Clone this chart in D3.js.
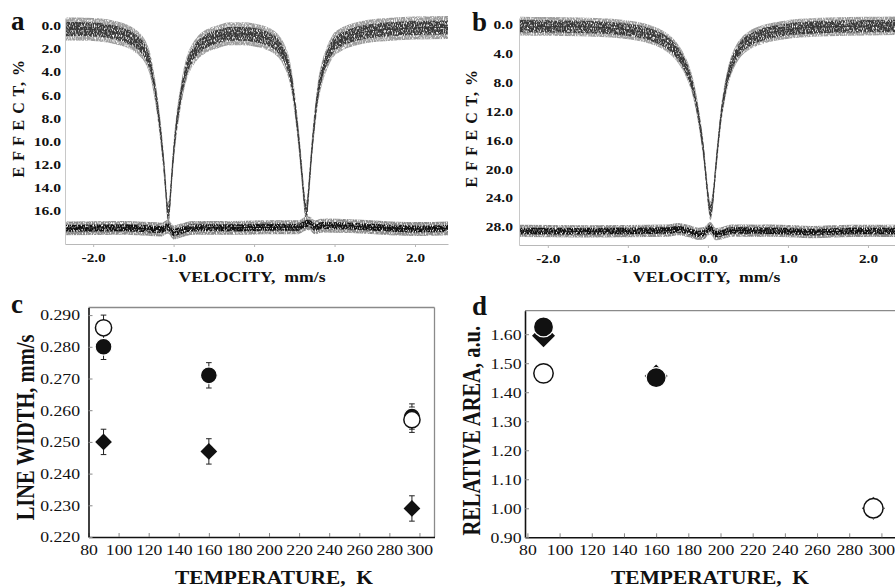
<!DOCTYPE html>
<html>
<head>
<meta charset="utf-8">
<script src="https://cdn.jsdelivr.net/npm/d3@7"></script>
<style>
  body { margin: 0; background: #fff; }
  svg { display: block; }
  text { font-family: "Liberation Serif", "Times New Roman", serif; fill: #111; }
</style>
</head>
<body>
<svg id="fig" width="895" height="588"></svg>
<script>
// ---- spectrum a: [velocity mm/s, effect %]
var spectrumA = [
  [-2.35,0.28],[-2.1,0.3],[-1.9,0.38],[-1.75,0.55],[-1.6,0.85],[-1.5,1.2],[-1.42,1.65],
  [-1.35,2.3],[-1.29,3.4],[-1.24,5.2],[-1.19,7.6],[-1.15,10.0],[-1.12,12.2],[-1.095,14.4],
  [-1.075,16.1],[-1.06,16.2],[-1.045,15.2],[-1.025,13.2],[-1.0,11.0],[-0.97,8.9],[-0.93,6.9],
  [-0.88,4.9],[-0.83,3.5],[-0.77,2.6],[-0.7,1.9],[-0.6,1.35],[-0.45,0.95],[-0.3,0.7],
  [-0.15,0.7],[0.0,0.8],[0.12,1.0],[0.22,1.3],[0.3,1.75],[0.37,2.5],[0.43,3.6],[0.48,5.4],
  [0.52,7.6],[0.56,10.2],[0.59,12.5],[0.62,14.8],[0.64,16.0],[0.655,16.1],[0.67,15.0],
  [0.695,12.8],[0.72,10.6],[0.75,8.4],[0.79,6.0],[0.84,4.2],[0.9,2.9],[0.98,1.75],
  [1.08,1.2],[1.2,0.85],[1.4,0.5],[1.7,0.3],[2.0,0.2],[2.41,0.15]
];
var residualA = [
  [-2.35,17.55],[-1.6,17.5],[-1.3,17.6],[-1.15,17.65],[-1.07,17.4],[-1.0,17.9],[-0.92,17.75],
  [-0.75,17.5],[-0.3,17.5],[0.3,17.45],[0.55,17.45],[0.62,17.2],[0.68,17.1],[0.76,17.45],
  [0.85,17.3],[1.2,17.35],[1.6,17.5],[2.0,17.6],[2.41,17.55]
];

// ---- spectrum b
var spectrumB = [
  [-2.36,0.15],[-2.0,0.2],[-1.6,0.25],[-1.2,0.45],[-0.95,0.75],[-0.8,1.05],[-0.65,1.6],
  [-0.53,2.3],[-0.44,3.1],[-0.36,4.2],[-0.3,5.3],[-0.24,6.8],[-0.18,9.0],[-0.13,11.8],
  [-0.09,14.6],[-0.05,18.0],[-0.02,21.5],[0.005,24.2],[0.03,25.8],[0.05,25.2],[0.075,22.8],
  [0.1,19.6],[0.13,16.2],[0.16,13.0],[0.2,10.0],[0.25,7.2],[0.31,5.1],[0.38,3.6],[0.47,2.5],
  [0.58,1.75],[0.72,1.2],[0.9,0.8],[1.15,0.45],[1.5,0.25],[2.0,0.15],[2.4,0.1]
];
var residualB = [
  [-2.36,28.6],[-1.5,28.65],[-0.5,28.55],[-0.38,28.35],[-0.25,28.6],[-0.12,29.0],[-0.05,28.9],
  [0.03,28.2],[0.1,29.05],[0.18,28.9],[0.3,28.55],[0.9,28.6],[1.3,28.75],[1.8,28.6],[2.4,28.6]
];

var velTicks = [-2, -1, 0, 1, 2];
var effTicksA = [0, 2, 4, 6, 8, 10, 12, 14, 16];
var effTicksB = [0, 4, 8, 12, 16, 20, 24, 28];

// ---- panels c and d (temperature K)
var temps = [90, 160, 295];
var widthFilled  = [0.280, 0.271, 0.258];
var widthOpen    = [0.286, null, 0.257];
var widthDiamond = [0.250, 0.247, 0.229];
var widthErr = 0.004;
var areaFilled  = [1.625, 1.45, 1.00];
var areaOpen    = [1.465, null, 1.00];
var areaDiamond = [1.595, 1.456, 1.00];

var tempTicks = d3.range(80, 301, 20);
var widthTicks = [0.22, 0.23, 0.24, 0.25, 0.26, 0.27, 0.28, 0.29];
var areaTicks = [0.9, 1.0, 1.1, 1.2, 1.3, 1.4, 1.5, 1.6];

var SERIF = '"Liberation Serif", "Times New Roman", serif';
var svg = d3.select("#fig");

// grainy texture for the counting noise of the spectra
var grain = svg.append("defs").append("filter").attr("id", "grain")
  .attr("x", 0).attr("y", 0).attr("width", 1).attr("height", 1)
  .attr("color-interpolation-filters", "sRGB");
grain.append("feTurbulence").attr("type", "fractalNoise")
  .attr("baseFrequency", "1.1 0.4").attr("numOctaves", 2).attr("seed", 7).attr("result", "n");
grain.append("feColorMatrix").attr("in", "n").attr("type", "matrix")
  .attr("values", "0 0 0 0 0  0 0 0 0 0  0 0 0 0 0  3 0 0 0 -0.65").attr("result", "m");
grain.append("feComposite").attr("in", "SourceGraphic").attr("in2", "m").attr("operator", "in");

function pts(xs, ys) {
  return xs.map(function(t, i) { return [t, ys[i]]; }).filter(function(d) { return d[1] != null; });
}

// stretch axis labels sideways (the original figure is widened)
function stretchLabels(axisG, k, size, weight, gapX) {
  axisG.selectAll("text")
    .attr("font-size", size)
    .attr("font-weight", weight)
    .attr("font-family", SERIF)
    .attr("fill", "#111")
    .attr("transform", "scale(" + k + ",1)");
  if (gapX != null) axisG.selectAll("text").attr("x", -gapX / k);
}

function label(txt, x, y, size, opts) {
  opts = opts || {};
  var k = opts.k || 1;
  var t = svg.append("text")
    .attr("font-family", SERIF)
    .attr("font-size", size)
    .attr("font-weight", "bold")
    .attr("text-anchor", opts.anchor || "start")
    .attr("letter-spacing", opts.spacing || 0)
    .text(txt);
  if (opts.rotate) t.attr("transform", "translate(" + x + "," + y + ") scale(" + k + ",1) rotate(-90)");
  else t.attr("transform", "translate(" + x + "," + y + ") scale(" + k + ",1)");
  return t;
}

function spectrum(p) {
  var x = d3.scaleLinear().domain(p.xDom).range(p.xRng);
  var y = d3.scaleLinear().domain(p.yDom).range(p.yRng);
  var g = svg.append("g");

  var clipId = "clip" + p.id;
  svg.append("clipPath").attr("id", clipId).append("rect")
    .attr("x", p.xRng[0] + 1).attr("y", p.yRng[1] - 10)
    .attr("width", p.xRng[1] - p.xRng[0]).attr("height", p.yRng[0] - p.yRng[1] + 9);

  var xa = g.append("g")
    .attr("transform", "translate(0," + p.yRng[0] + ")")
    .call(d3.axisBottom(x).tickValues(velTicks).tickSize(3).tickSizeOuter(0).tickPadding(6)
      .tickFormat(function(d) { return d.toFixed(1); }));
  xa.select(".domain").attr("stroke", "#b8b8b8");
  xa.selectAll(".tick line").attr("stroke", "#b8b8b8");
  stretchLabels(xa, 1.22, 12.5, "bold", null);

  var ya = g.append("g")
    .attr("transform", "translate(" + p.xRng[0] + ",0)")
    .call(d3.axisLeft(y).tickValues(p.yTicks).tickSize(0).tickSizeOuter(0)
      .tickFormat(function(d) { return d.toFixed(1); }));
  ya.select(".domain").attr("stroke", "#c8c8c8");
  stretchLabels(ya, 1.25, 12.5, "bold", p.yGap);

  var plot = g.append("g").attr("clip-path", "url(#" + clipId + ")");
  var noisy = plot.append("g").attr("filter", "url(#grain)");
  function band(data, half, fill) {
    var area = d3.area().curve(d3.curveMonotoneX)
      .x(function(d) { return x(d[0]); })
      .y0(function(d) { return y(d[1] - half); })
      .y1(function(d) { return y(d[1] + half); });
    noisy.append("path").datum(data).attr("d", area).attr("fill", fill);
  }
  var line = d3.line().curve(d3.curveMonotoneX)
    .x(function(d) { return x(d[0]); })
    .y(function(d) { return y(d[1]); });

  band(p.data, p.noise[0], "#9c9c9c");
  band(p.data, p.noise[1], "#3a3a3a");
  band(p.resid, p.resNoise[0], "#8a8a8a");
  band(p.resid, p.resNoise[1], "#111");

  plot.append("path").datum(p.data).attr("d", line)
    .attr("fill", "none").attr("stroke", "#333").attr("stroke-width", 0.9);
  plot.append("path").datum(p.resid).attr("d", line)
    .attr("fill", "none").attr("stroke", "#111").attr("stroke-width", 1);
}

spectrum({
  id: "a", data: spectrumA, resid: residualA,
  xDom: [-2.35, 2.41], xRng: [65, 448],
  yDom: [18.9, -0.67], yRng: [244, 18],
  yTicks: effTicksA, yGap: 4,
  noise: [1.0, 0.6], resNoise: [0.6, 0.3]
});
spectrum({
  id: "b", data: spectrumB, resid: residualB,
  xDom: [-2.36, 2.4], xRng: [519, 900],
  yDom: [30.55, -0.97], yRng: [245, 18],
  yTicks: effTicksB, yGap: 6,
  noise: [1.3, 0.85], resNoise: [0.85, 0.45]
});

label("a", 11, 30, 27);
label("b", 472, 30.7, 27);
label("E F F E C T, %", 23.5, 118.3, 16, { rotate: true, anchor: "middle", k: 1.05, spacing: 1 });
label("E F F E C T, %", 476.7, 128.3, 16, { rotate: true, anchor: "middle", k: 1.05, spacing: 1 });
label("VELOCITY,\u00a0 mm/s", 252, 281.7, 15, { anchor: "middle", k: 1.18 });
label("VELOCITY,\u00a0 mm/s", 706.7, 281.7, 15, { anchor: "middle", k: 1.18 });

function scatter(p) {
  var x = d3.scaleLinear().domain(p.xDom).range(p.xRng);
  var y = d3.scaleLinear().domain(p.yDom).range(p.yRng);
  var g = svg.append("g");

  // frame
  g.append("line").attr("x1", p.xRng[0]).attr("x2", p.xRng[1]).attr("y1", p.yRng[1]).attr("y2", p.yRng[1])
    .attr("stroke", "#8a8a8a").attr("stroke-width", 1.3);
  g.append("line").attr("x1", p.xRng[1]).attr("x2", p.xRng[1]).attr("y1", p.yRng[1]).attr("y2", p.yRng[0])
    .attr("stroke", "#8a8a8a").attr("stroke-width", 1.3);

  var xa = g.append("g").attr("transform", "translate(0," + p.yRng[0] + ")")
    .call(d3.axisBottom(x).tickValues(tempTicks).tickSize(-4).tickSizeOuter(0).tickPadding(7.5));
  xa.select(".domain").attr("stroke", "#111").attr("stroke-width", 1.6);
  xa.selectAll(".tick line").attr("stroke", "#888");
  stretchLabels(xa, 1.18, 15, "normal", null);

  var ya = g.append("g").attr("transform", "translate(" + p.xRng[0] + ",0)")
    .call(d3.axisLeft(y).tickValues(p.yTicks).tickSize(-4).tickSizeOuter(0).tickFormat(d3.format(p.yFmt)));
  ya.select(".domain").attr("stroke", "#111").attr("stroke-width", 1.6);
  ya.selectAll(".tick line").attr("stroke", "#888");
  stretchLabels(ya, 1.18, 15, "normal", p.yGap);

  // error bars
  if (p.err) {
    [p.filled, p.open, p.diamond].forEach(function(s) {
      pts(temps, s).forEach(function(d) {
        var cx = x(d[0]), y1 = y(d[1] + p.err), y2 = y(d[1] - p.err);
        g.append("line").attr("x1", cx).attr("x2", cx).attr("y1", y1).attr("y2", y2)
          .attr("stroke", "#222").attr("stroke-width", 1);
        [y1, y2].forEach(function(yy) {
          g.append("line").attr("x1", cx - 2.8).attr("x2", cx + 2.8).attr("y1", yy).attr("y2", yy)
            .attr("stroke", "#222").attr("stroke-width", 1);
        });
      });
    });
  }

  var diamond = d3.symbol().type(d3.symbolSquare).size(p.diamondSize);
  g.selectAll(".dia").data(pts(temps, p.diamond)).join("path")
    .attr("d", diamond)
    .attr("transform", function(d) { return "translate(" + x(d[0]) + "," + y(d[1]) + ") rotate(45)"; })
    .attr("fill", "#111");
  g.selectAll(".fil").data(pts(temps, p.filled)).join("circle")
    .attr("cx", function(d) { return x(d[0]); })
    .attr("cy", function(d) { return y(d[1]); })
    .attr("r", p.r).attr("fill", "#111").attr("stroke", "#fff").attr("stroke-width", 1.2);
  g.selectAll(".opn").data(pts(temps, p.open)).join("circle")
    .attr("cx", function(d) { return x(d[0]); })
    .attr("cy", function(d) { return y(d[1]); })
    .attr("r", p.r - 0.3).attr("fill", "#fff").attr("stroke", "#111").attr("stroke-width", 1.5);
}

scatter({
  xDom: [80, 310], xRng: [88.5, 434.5],
  yDom: [0.22, 0.2924], yRng: [537, 307.5],
  yTicks: widthTicks, yFmt: ".3f", yGap: 8.5,
  filled: widthFilled, open: widthOpen, diamond: widthDiamond, err: widthErr,
  r: 8.4, diamondSize: 140
});
scatter({
  xDom: [78.5, 310], xRng: [525, 897.5],
  yDom: [0.9, 1.681], yRng: [537.3, 310.7],
  yTicks: areaTicks, yFmt: ".2f", yGap: 3.5,
  filled: areaFilled, open: areaOpen, diamond: areaDiamond, err: null,
  r: 10, diamondSize: 265
});

label("c", 11, 313, 27);
label("d", 472, 315, 27);
label("LINE WIDTH, mm/s", 33.5, 427.5, 20.5, { rotate: true, anchor: "middle", k: 1.2 });
label("RELATIVE AREA, a.u.", 480, 430.8, 20.5, { rotate: true, anchor: "middle", k: 1.2 });
label("TEMPERATURE,\u00a0 K", 274, 583.5, 19.5, { anchor: "middle", k: 1.1 });
label("TEMPERATURE,\u00a0 K", 710, 583.5, 19.5, { anchor: "middle", k: 1.1 });
</script>
</body>
</html>
